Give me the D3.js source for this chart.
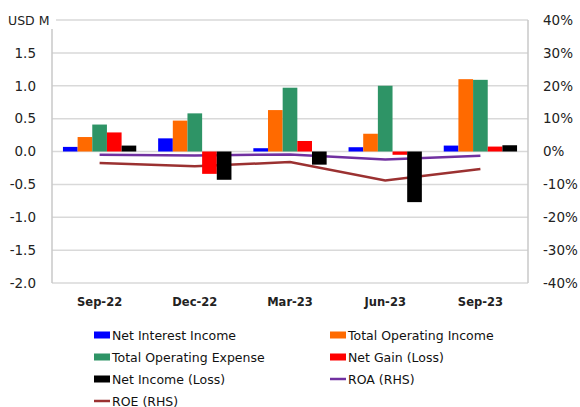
<!DOCTYPE html>
<meta charset="UTF-8">
<script src="https://cdnjs.cloudflare.com/ajax/libs/d3/7.8.5/d3.min.js"></script>
<style>
    body { margin: 0; background: #fff; }
    text { font-family: "DejaVu Sans", sans-serif; }
</style>
<svg id="chart" width="580" height="407"></svg>
<script>
    // quarters on the x axis
    const quarters = ["Sep-22", "Dec-22", "Mar-23", "Jun-23", "Sep-23"];

    // bar series, USD M (left axis)
    const netInterestIncome = [0.07, 0.20, 0.05, 0.065, 0.09];
    const totalOperatingIncome = [0.22, 0.47, 0.63, 0.27, 1.10];
    const totalOperatingExpense = [0.41, 0.58, 0.97, 1.00, 1.09];
    const netGain = [0.29, -0.34, 0.16, -0.05, 0.075];
    const netIncome = [0.09, -0.43, -0.20, -0.77, 0.095];

    // line series, % (right axis)
    const roa = [-1.0, -1.2, -0.9, -2.4, -1.3];
    const roe = [-3.5, -4.5, -3.2, -8.8, -5.3];

    const leftTicks = [2.0, 1.5, 1.0, 0.5, 0.0, -0.5, -1.0, -1.5, -2.0];
    const rightTicks = [40, 30, 20, 10, 0, -10, -20, -30, -40];

    const barSeries = [
        {name: "Net Interest Income", color: "#0000ff", values: netInterestIncome},
        {name: "Total Operating Income", color: "#ff6a00", values: totalOperatingIncome},
        {name: "Total Operating Expense", color: "#2e9466", values: totalOperatingExpense},
        {name: "Net Gain (Loss)", color: "#ff0000", values: netGain},
        {name: "Net Income (Loss)", color: "#000000", values: netIncome}
    ];
    const lineSeries = [
        {name: "ROA (RHS)", color: "#7030a0", values: roa},
        {name: "ROE (RHS)", color: "#9b3131", values: roe}
    ];

    let svg = d3.select("#chart");
    const plotLeft = 52, plotRight = 528, plotTop = 20, plotBottom = 283;

    let y = d3.scaleLinear().domain([-2, 2]).range([plotBottom, plotTop]);
    let yR = d3.scaleLinear().domain([-40, 40]).range([plotBottom, plotTop]);
    let x0 = d3.scaleBand().domain(quarters).range([plotLeft, plotRight])
        .paddingInner(0.23).paddingOuter(0.115);
    let x1 = d3.scaleBand().domain(barSeries.map(d => d.name)).range([0, x0.bandwidth()]);

    // gridlines
    svg.append("g")
        .selectAll("line")
        .data(leftTicks)
        .join("line")
        .attr("x1", plotLeft).attr("x2", plotRight)
        .attr("y1", d => y(d)).attr("y2", d => y(d))
        .style("stroke", "#d9d9d9")
        .style("stroke-width", 1.5);

    // axis frame lines
    svg.append("line").attr("x1", plotLeft).attr("x2", plotLeft).attr("y1", 29).attr("y2", plotBottom)
        .style("stroke", "#c8c8c8").style("stroke-width", 1.5);
    svg.append("line").attr("x1", plotRight).attr("x2", plotRight).attr("y1", plotTop).attr("y2", plotBottom)
        .style("stroke", "#c8c8c8").style("stroke-width", 1.5);

    // left tick labels (top one replaced by unit)
    svg.append("g")
        .selectAll("text")
        .data(leftTicks.slice(1))
        .join("text")
        .attr("x", 36)
        .attr("y", d => y(d))
        .attr("dy", "0.36em")
        .style("text-anchor", "end")
        .style("font-size", "13.5px")
        .style("fill", "#222")
        .text(d => d.toFixed(1));
    svg.append("rect").attr("x", 4).attr("y", 12).attr("width", 52).attr("height", 16).style("fill", "#fff");
    svg.append("text")
        .attr("x", 8).attr("y", y(2)).attr("dy", "0.36em")
        .style("font-size", "12.5px")
        .style("fill", "#222")
        .text("USD M");

    // right tick labels
    svg.append("g")
        .selectAll("text")
        .data(rightTicks)
        .join("text")
        .attr("x", 543)
        .attr("y", d => yR(d))
        .attr("dy", "0.36em")
        .style("font-size", "13.5px")
        .style("fill", "#222")
        .text(d => d + "%");

    // x labels
    svg.append("g")
        .selectAll("text")
        .data(quarters)
        .join("text")
        .attr("x", d => x0(d) + x0.bandwidth() / 2)
        .attr("y", 306)
        .style("text-anchor", "middle")
        .style("font-size", "11.5px")
        .style("font-weight", "bold")
        .style("fill", "#222")
        .text(d => d);

    // lines (drawn behind bars)
    lineSeries.forEach(function (s) {
        let line = d3.line()
            .x((d, i) => x0(quarters[i]) + x0.bandwidth() / 2)
            .y(d => yR(d));
        svg.append("path")
            .datum(s.values)
            .attr("d", line)
            .style("fill", "none")
            .style("stroke", s.color)
            .style("stroke-width", 2.5);
    });

    // bars
    let groups = svg.append("g")
        .selectAll("g")
        .data(quarters)
        .join("g")
        .attr("transform", d => "translate(" + x0(d) + ",0)");
    groups.selectAll("rect")
        .data((q, qi) => barSeries.map(s => ({name: s.name, color: s.color, v: s.values[qi]})))
        .join("rect")
        .attr("x", d => x1(d.name))
        .attr("width", x1.bandwidth())
        .attr("y", d => y(Math.max(0, d.v)))
        .attr("height", d => Math.abs(y(d.v) - y(0)))
        .style("fill", d => d.color);

    // legend
    const legendItems = [
        {name: "Net Interest Income", color: "#0000ff", type: "bar"},
        {name: "Total Operating Income", color: "#ff6a00", type: "bar"},
        {name: "Total Operating Expense", color: "#2e9466", type: "bar"},
        {name: "Net Gain (Loss)", color: "#ff0000", type: "bar"},
        {name: "Net Income (Loss)", color: "#000000", type: "bar"},
        {name: "ROA (RHS)", color: "#7030a0", type: "line"},
        {name: "ROE (RHS)", color: "#9b3131", type: "line"}
    ];
    let legend = svg.append("g")
        .selectAll("g")
        .data(legendItems)
        .join("g")
        .attr("transform", (d, i) => "translate(" + (i % 2 ? 330 : 94) + "," + (335 + Math.floor(i / 2) * 22) + ")");
    legend.filter(d => d.type === "bar").append("rect")
        .attr("x", 0).attr("y", -3.5).attr("width", 16).attr("height", 7)
        .style("fill", d => d.color);
    legend.filter(d => d.type === "line").append("line")
        .attr("x1", 0).attr("x2", 16).attr("y1", 0).attr("y2", 0)
        .style("stroke", d => d.color).style("stroke-width", 2.5);
    legend.append("text")
        .attr("x", 18).attr("dy", "0.36em")
        .style("font-size", "12.5px")
        .style("fill", "#111")
        .text(d => d.name);
</script>
